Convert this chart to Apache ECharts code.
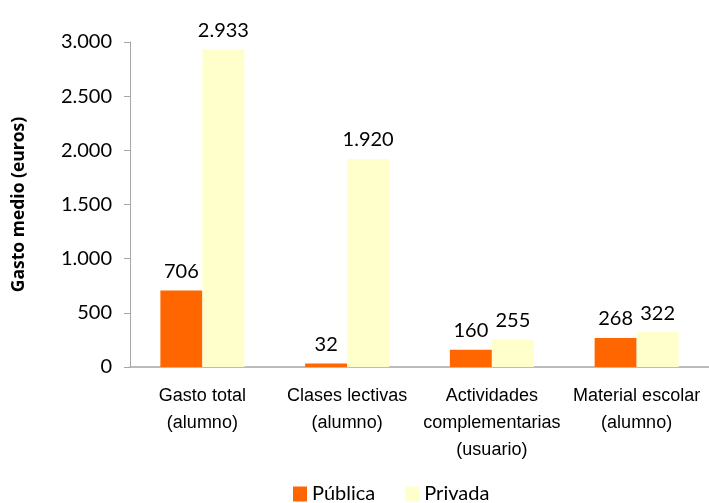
<!DOCTYPE html>
<html>
<head>
<meta charset="utf-8">
<script src="https://cdn.jsdelivr.net/npm/echarts@6/dist/echarts.min.js"></script>
<style>html,body{margin:0;padding:0;background:#fff}#c{width:709px;height:503px}</style>
</head>
<body>
<div id="c"></div>
<script>
const categories = ['Gasto total\n(alumno)', 'Clases lectivas\n(alumno)', 'Actividades\ncomplementarias\n(usuario)', 'Material escolar\n(alumno)'];
const publica = [706, 32, 160, 268];
const privada = [2933, 1920, 255, 322];
const seriesNames = ['Pública', 'Privada'];
const yTicks = [0, 500, 1000, 1500, 2000, 2500, 3000];

function fmt(v) {
  return String(v).replace(/\B(?=(\d{3})+(?!\d))/g, '.');
}

const chart = echarts.init(document.getElementById('c'), null, {renderer: 'canvas'});
const labelStyle = {
  show: true, position: 'top', distance: 9,
  color: '#000', fontFamily: 'Lato', fontSize: 20,
  formatter: p => fmt(p.value)
};
chart.setOption({
  animation: false,
  grid: {left: 130, right: 0, top: 42, bottom: 136},
  legend: {
    top: 479, left: 288,
    itemWidth: 14, itemHeight: 15, itemGap: 30,
    icon: 'rect',
    textStyle: {fontFamily: 'Lato', fontSize: 20, color: '#000'},
    data: seriesNames
  },
  xAxis: {
    type: 'category', data: categories,
    axisLine: {lineStyle: {color: '#a6a6a6', width: 1.5}},
    axisTick: {show: false},
    axisLabel: {interval: 0, fontFamily: 'Liberation Sans', fontSize: 18, color: '#000', lineHeight: 27, margin: 16}
  },
  yAxis: {
    type: 'value', min: 0, max: 3000, interval: 500,
    name: 'Gasto medio (euros)', nameLocation: 'middle', nameGap: 102,
    nameTextStyle: {fontFamily: 'Open Sans', fontWeight: 'bold', fontSize: 17.5, color: '#000'},
    axisLine: {show: true, lineStyle: {color: '#a6a6a6', width: 1}},
    axisTick: {show: true, length: 6, lineStyle: {color: '#a6a6a6'}},
    splitLine: {show: false},
    axisLabel: {fontFamily: 'Lato', fontSize: 20, color: '#000', margin: 18,
      formatter: v => yTicks.includes(v) ? fmt(v) : ''}
  },
  series: [
    {name: seriesNames[0], type: 'bar', data: publica, barWidth: 42, barGap: '0%',
     itemStyle: {color: '#FF6600'}, label: labelStyle},
    {name: seriesNames[1], type: 'bar', data: privada, barWidth: 42, barGap: '0%',
     itemStyle: {color: '#FFFFCC'}, label: labelStyle}
  ]
});
</script>
</body>
</html>
